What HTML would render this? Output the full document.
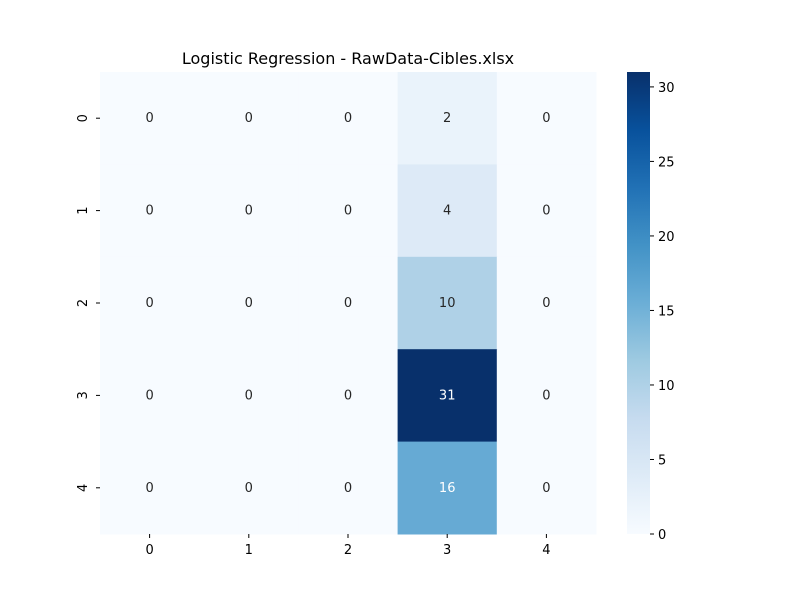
<!DOCTYPE html>
<html><head><meta charset="utf-8"><style>
body{margin:0;background:#fff;font-family:"Liberation Sans","DejaVu Sans",sans-serif}
svg text{font-family:"DejaVu Sans","Liberation Sans",sans-serif}
</style></head><body>
<svg id="chart" width="800" height="600">
<defs><linearGradient id="blues" x1="0" y1="1" x2="0" y2="0">
<stop offset="0" stop-color="#f7fbff"/><stop offset="0.125" stop-color="#deebf7"/><stop offset="0.25" stop-color="#c6dbef"/><stop offset="0.375" stop-color="#9ecae1"/><stop offset="0.5" stop-color="#6baed6"/><stop offset="0.625" stop-color="#4292c6"/><stop offset="0.75" stop-color="#2171b5"/><stop offset="0.875" stop-color="#08519c"/><stop offset="1" stop-color="#08306b"/>
</linearGradient></defs>
<text x="348" y="64" text-anchor="middle" font-size="16" fill="#000">Logistic Regression - RawData-Cibles.xlsx</text>
<g id="cells"></g>
<rect x="627" y="72" width="23" height="462" fill="url(#blues)"/>
<g id="cbticks"></g>
</svg>
<script>
const xLabels=["0","1","2","3","4"];
const yLabels=["0","1","2","3","4"];
const matrix=[[0,0,0,2,0],[0,0,0,4,0],[0,0,0,10,0],[0,0,0,31,0],[0,0,0,16,0]];
const cbTicks=[0,5,10,15,20,25,30];
const X0=100,X1=596,Y0=72,Y1=534;
const vmax=Math.max(...matrix.flat()),vmin=0;
const stops=["#f7fbff","#deebf7","#c6dbef","#9ecae1","#6baed6","#4292c6","#2171b5","#08519c","#08306b"].map(h=>[1,3,5].map(i=>parseInt(h.substr(i,2),16)));
function color(v){let t=(v-vmin)/(vmax-vmin)*8;let i=Math.min(7,Math.floor(t));let f=t-i;const c=stops[i].map((a,k)=>Math.round(a+(stops[i+1][k]-a)*f));return [`rgb(${c})`,0.299*c[0]+0.587*c[1]+0.114*c[2]];}
const cw=(X1-X0)/xLabels.length,ch=(Y1-Y0)/yLabels.length;
const xs=i=>X0+i*cw, ys=j=>Y0+j*ch;
const NS="http://www.w3.org/2000/svg";
const g=document.getElementById('cells'),svg=document.getElementById('chart');
function mk(tag,at,p){const e=document.createElementNS(NS,tag);for(const k in at)e.setAttribute(k,at[k]);(p||g).appendChild(e);return e;}
matrix.forEach((row,j)=>row.forEach((v,i)=>{
 const [c,l]=color(v);
 const r=mk('rect',{x:xs(i),y:ys(j),width:cw+0.5,height:ch+0.5,fill:c});
 
 
 const t=mk('text',{x:xs(i)+cw/2,y:ys(j)+ch/2+4,'text-anchor':'middle','font-size':13,fill:l<180?'#fff':'#262626'});
 t.textContent=v;
 
 
}));
xLabels.forEach((s,i)=>{
 const x=xs(i)+cw/2;
 const l=mk('line',{x1:x,x2:x,y1:Y1,y2:Y1+4,stroke:'#000'});
 
 
 const t=mk('text',{x:x,y:Y1+20,'text-anchor':'middle','font-size':13});
 t.textContent=s;
 
 
});
yLabels.forEach((s,j)=>{
 const y=ys(j)+ch/2;
 const l=mk('line',{x1:X0-4,x2:X0,y1:y,y2:y,stroke:'#000'});
 
 
 const t=mk('text',{x:0,y:0,'text-anchor':'middle','font-size':13,transform:`translate(${X0-13},${y}) rotate(-90)`});
 t.textContent=s;
 
 
});
const cb=document.getElementById('cbticks');
cbTicks.forEach(v=>{
 const y=Y1-(v-vmin)/(vmax-vmin)*(Y1-Y0);
 const l=mk('line',{x1:650,x2:654,y1:y,y2:y,stroke:'#000'},cb);
 
 
 const t=mk('text',{x:658,y:y+5,'font-size':13},cb);
 t.textContent=v;
 
 
});
</script>
</body></html>
